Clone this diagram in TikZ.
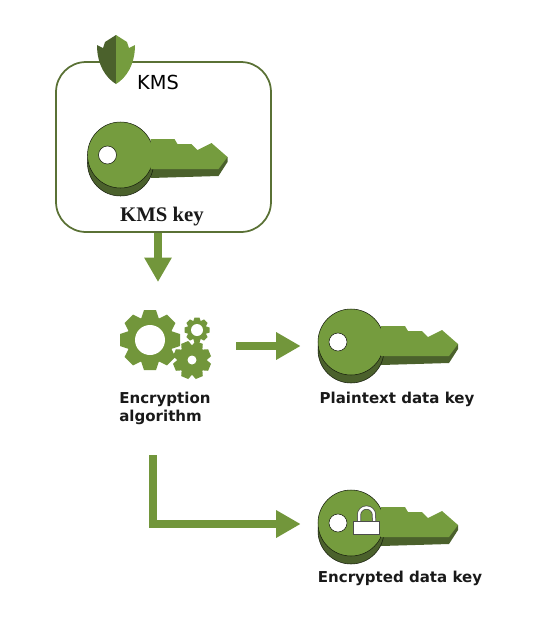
\documentclass[tikz,border=0pt]{standalone}
\usepackage{fontspec}
\usetikzlibrary{arrows.meta}
\setmainfont{DejaVu Sans}
\newfontfamily\kmsfont{Liberation Serif}
\definecolor{kmsgreen}{HTML}{759C3E}
\definecolor{kmsdark}{HTML}{4B612C}
\definecolor{kmsline}{HTML}{5A7135}
\definecolor{flowgreen}{HTML}{72963B}
\tikzset{
  flow/.style={draw=flowgreen, line width=0.16cm, -{Triangle[length=0.49cm,width=0.52cm]}},
  label/.style={font=\fontsize{8.55}{10}\selectfont\bfseries, text=black!90, inner sep=0},
  anchorbox/.style={inner sep=0, minimum height=1.2cm},
  pics/keyicon/.style={code={
    \fill[kmsdark] (30,-8)--(107,2)--(107,7)--(98,21)--(30,23)--cycle;
    \draw[fill=kmsdark, draw=black!70!kmsdark, line width=0.3pt] (0,8) circle (33);
    \draw[fill=kmsgreen, draw=black!70!kmsdark, line width=0.3pt] (0,0) circle (33);
    \fill[kmsgreen] (30,-16)--(54,-16)--(57,-11)--(71,-11)--(77,-5)--(91,-12)--(107,2)--(98,14)--(30,14)--cycle;
    \draw[fill=white, draw=black!70!kmsdark, line width=0.3pt] (-13,0) circle (9);
  }},
  pics/gearicon/.style n args={3}{code={
    \foreach \a in {0,45,...,315}
      \fill[flowgreen, rotate=\a+22.5*#3] (-#1*0.3,-#1*0.7)--(-#1*0.2,-#1)--(#1*0.2,-#1)--(#1*0.3,-#1*0.7)--cycle;
    \fill[flowgreen] (0,0) circle (#1*0.78);
    \fill[white] (0,0) circle (#2);
  }}
}
\begin{document}
\begin{tikzpicture}[x=0.02cm,y=-0.02cm]
\useasboundingbox (0,0) rectangle (557,633);
% KMS box
\node[draw=kmsline, line width=0.035cm, rounded corners=0.6cm, minimum width=4.3cm, minimum height=3.4cm, inner sep=0] (kmsbox) at (163.5,147) {};
\fill[kmsdark] (116,35)--(116,84) .. controls (106,78) and (97,65) .. (97,45)--(103,48)--(105,42)--cycle;
\fill[kmsgreen] (116,35)--(116,84) .. controls (126,78) and (135,65) .. (135,45)--(129,48)--(127,42)--cycle;
\node[font=\fontsize{11}{13}\selectfont, inner sep=0] (kmslabel) at (158,82) {KMS};
\pic at (120.5,155) {keyicon};
\node[label, font=\kmsfont\fontsize{11.8}{13}\selectfont\bfseries] (kmskey) at (162,216.5) {KMS key};
% algorithm
\node[anchorbox, minimum width=2.8cm] (gears) at (166,346) {};
\pic at (150,340) {gearicon={30}{15}{0}};
\pic at (197,330) {gearicon={12.5}{6}{0}};
\pic at (192,360) {gearicon={19}{4.5}{1}};
\node[label, align=left, anchor=north west] (algolabel) at (119,392) {Encryption\\algorithm};
% data keys
\node[anchorbox, minimum width=3.46cm] (plainkey) at (387.5,346) {};
\pic at (351,342) {keyicon};
\node[label] (plainlabel) at (397,399) {Plaintext data key};
\node[anchorbox, minimum width=3.46cm] (lockkey) at (387.5,524) {};
\pic at (351,523) {keyicon};
\draw[black!70, line width=0.08cm] (359,522)--(359,515) arc[start angle=180, end angle=0, radius=0.15cm]--(374,522);
\draw[white, line width=0.05cm] (359,522)--(359,515) arc[start angle=180, end angle=0, radius=0.15cm]--(374,522);
\draw[fill=white, draw=black!70, line width=0.4pt] (353,521) rectangle (379,534);
\node[label] (locklabel) at (400,578) {Encrypted data key};
% arrows
\coordinate (kmsout) at (158,282);
\coordinate (algoout) at (153,455);
\draw[flow] (kmsbox.south -| kmsout) -- (kmsout);
\draw[flow] (gears.east) -- (plainkey.west);
\draw[flow] (algoout) |- (lockkey.west);
\end{tikzpicture}
\end{document}
